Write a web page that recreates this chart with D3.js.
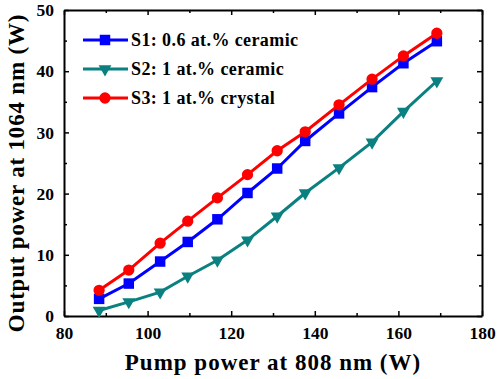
<!DOCTYPE html>
<html>
<head>
<meta charset="utf-8">
<script src="https://cdn.jsdelivr.net/npm/d3@7"></script>
<style>
  body { margin: 0; background: #fff; }
  text { font-family: "Liberation Serif", "Times New Roman", serif; font-weight: bold; }
</style>
</head>
<body>
<svg id="chart" width="498" height="379"></svg>
<script>
// pump power (W)
let pump = [88.4, 95.5, 103, 109.6, 116.7, 123.9, 131, 137.7, 145.8, 153.7, 161.2, 169.2];
// output power at 1064 nm (W)
let s1 = [2.8, 5.3, 8.9, 12.1, 15.8, 20.1, 24.1, 28.6, 33.1, 37.4, 41.3, 44.9];
let s2 = [0.9, 2.3, 3.9, 6.5, 9.1, 12.4, 16.3, 20.1, 24.2, 28.4, 33.4, 38.4];
let s3 = [4.2, 7.5, 11.9, 15.5, 19.3, 23.1, 27.0, 30.1, 34.5, 38.7, 42.5, 46.2];

let seriesNames = ['S1: 0.6 at.% ceramic', 'S2: 1 at.% ceramic', 'S3: 1 at.% crystal'];
let xTicks = [80, 100, 120, 140, 160, 180];
let yTicks = [0, 10, 20, 30, 40, 50];

let series = [
    {name: seriesNames[0], values: s1, color: '#0000ff', symbol: d3.symbolSquare, size: 110, rot: 0},
    {name: seriesNames[1], values: s2, color: '#0a8080', symbol: d3.symbolTriangle, size: 72, rot: 180},
    {name: seriesNames[2], values: s3, color: '#ff0000', symbol: d3.symbolCircle, size: 100, rot: 0},
];

let margin = {top: 10, right: 16, bottom: 63, left: 64};
let width = 498 - margin.left - margin.right;
let height = 379 - margin.top - margin.bottom;

let svg = d3.select('#chart')
    .append('g')
    .attr('transform', 'translate(' + margin.left + ',' + margin.top + ')');

let xScale = d3.scaleLinear().domain([80, 180]).range([0, width]);
let yScale = d3.scaleLinear().domain([0, 50]).range([height, 0]);

// minor ticks (inward, all four sides)
let xMinor = d3.range(90, 180, 20);
let yMinor = d3.range(5, 50, 10);

function tickAxis(axisFn, scale, ticks, len, labels) {
    return axisFn(scale).tickValues(ticks).tickSizeInner(-len).tickSizeOuter(0)
        .tickFormat(labels ? d3.format('d') : '');
}

let axes = [
    {fn: d3.axisBottom, scale: xScale, pos: 'translate(0,' + height + ')', major: xTicks, minor: xMinor, labels: true},
    {fn: d3.axisTop, scale: xScale, pos: 'translate(0,0)', major: xTicks, minor: xMinor, labels: false},
    {fn: d3.axisLeft, scale: yScale, pos: 'translate(0,0)', major: yTicks, minor: yMinor, labels: true},
    {fn: d3.axisRight, scale: yScale, pos: 'translate(' + width + ',0)', major: yTicks, minor: yMinor, labels: false},
];

axes.forEach(function (a) {
    let g = svg.append('g').attr('transform', a.pos)
        .call(tickAxis(a.fn, a.scale, a.major, 5, a.labels));
    svg.append('g').attr('transform', a.pos)
        .call(tickAxis(a.fn, a.scale, a.minor, 3, false))
        .select('.domain').remove();
    g.selectAll('text').style('font-size', '17.5px').attr('fill', '#000');
    if (a.fn === d3.axisBottom) g.selectAll('text').attr('y', 5).attr('dy', '1.05em');
    if (a.fn === d3.axisLeft) g.selectAll('text').attr('x', -10);
});

svg.selectAll('.tick line').attr('stroke', '#000').attr('stroke-width', 1.5);
svg.selectAll('.domain').attr('stroke', '#000').attr('stroke-width', 2);

// axis titles
svg.append('text')
    .attr('x', width / 2)
    .attr('y', height + 54)
    .attr('text-anchor', 'middle')
    .style('font-size', '23px')
    .style('letter-spacing', '1px')
    .text('Pump power at 808 nm (W)');

svg.append('text')
    .attr('transform', 'translate(' + (-40) + ',' + (height / 2 + 10) + ') rotate(-90)')
    .attr('text-anchor', 'middle')
    .style('font-size', '23px')
    .style('letter-spacing', '0.8px')
    .text('Output power at 1064 nm (W)');

let line = d3.line()
    .x(function (d) { return xScale(d.x); })
    .y(function (d) { return yScale(d.y); });

series.forEach(function (s) {
    let pts = s.values.map(function (v, i) { return {x: pump[i], y: v}; });
    svg.append('path')
        .datum(pts)
        .attr('fill', 'none')
        .attr('stroke', s.color)
        .attr('stroke-width', 3)
        .attr('d', line);
    svg.selectAll(null)
        .data(pts)
        .enter()
        .append('path')
        .attr('d', d3.symbol().type(s.symbol).size(s.size))
        .attr('transform', function (d) {
            return 'translate(' + xScale(d.x) + ',' + yScale(d.y) + ') rotate(' + s.rot + ')';
        })
        .attr('fill', s.color);
});

// legend
let legend = svg.append('g').attr('transform', 'translate(19,30)');
series.forEach(function (s, i) {
    let row = legend.append('g').attr('transform', 'translate(0,' + (i * 29) + ')');
    row.append('line')
        .attr('x1', 0).attr('x2', 45)
        .attr('stroke', s.color).attr('stroke-width', 3);
    row.append('path')
        .attr('d', d3.symbol().type(s.symbol).size(s.size))
        .attr('transform', 'translate(22,0) rotate(' + s.rot + ')')
        .attr('fill', s.color);
    row.append('text')
        .attr('x', 48)
        .attr('dy', '0.35em')
        .style('font-size', '18px')
        .style('letter-spacing', '0.4px')
        .text(s.name);
});
</script>
</body>
</html>
